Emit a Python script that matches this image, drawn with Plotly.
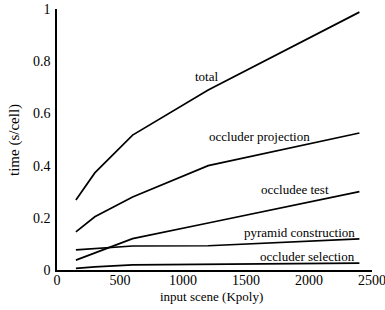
import plotly.graph_objects as go

scene_kpoly = [150, 300, 600, 1200, 2400]
total = [0.268, 0.372, 0.517, 0.69, 0.988]
occluder_projection = [0.146, 0.204, 0.28, 0.40, 0.525]
occludee_test = [0.038, 0.065, 0.12, 0.18, 0.30]
pyramid_construction = [0.077, 0.082, 0.092, 0.093, 0.119]
occluder_selection = [0.006, 0.012, 0.02, 0.022, 0.026]

series = [
    ("total", total),
    ("occluder projection", occluder_projection),
    ("occludee test", occludee_test),
    ("pyramid construction", pyramid_construction),
    ("occluder selection", occluder_selection),
]

# label placement (data coords)
labels = [
    ("total", 1190, 0.743, "center"),
    ("occluder projection", 1611, 0.513, "center"),
    ("occludee test", 1889, 0.31, "center"),
    ("pyramid construction", 2381, 0.142, "right"),
    ("occluder selection", 2381, 0.05, "right"),
]

FONT = "Liberation Serif, Times New Roman, serif"

fig = go.Figure()
for name, vals in series:
    fig.add_trace(go.Scatter(x=scene_kpoly, y=vals, mode="lines", name=name,
                             line=dict(color="black", width=1.7), showlegend=False))

for text, x, y, anc in labels:
    fig.add_annotation(x=x, y=y, text=text, showarrow=False, xanchor=anc,
                       yanchor="middle", font=dict(family=FONT, size=13, color="black"))

fig.add_annotation(x=0.49, y=-0.1, xref="paper", yref="paper", text="input scene (Kpoly)",
                   showarrow=False, xanchor="center", yanchor="middle",
                   font=dict(family=FONT, size=13, color="black"))
fig.add_annotation(x=-0.135, y=0.5, xref="paper", yref="paper", text="time (s/cell)",
                   showarrow=False, textangle=-90, xanchor="center", yanchor="middle",
                   font=dict(family=FONT, size=15, color="black"))

fig.update_layout(
    width=385, height=310,
    margin=dict(l=57, r=13, t=9, b=40, autoexpand=False),
    paper_bgcolor="white", plot_bgcolor="white",
    font=dict(family=FONT, size=14, color="black"),
    xaxis=dict(range=[0, 2500], tickvals=[0, 500, 1000, 1500, 2000, 2500], automargin=False,
               showgrid=False, zeroline=False, showline=True, linecolor="black", linewidth=1.5,
               ticks="", ticklabelstandoff=-4, ticklabeloverflow="allow",
               tickfont=dict(family=FONT, size=14)),
    yaxis=dict(range=[0, 1], tickvals=[0, 0.2, 0.4, 0.6, 0.8, 1], automargin=False,
               showgrid=False, zeroline=False, showline=True, linecolor="black", linewidth=1.5,
               ticks="outside", ticklen=2, tickcolor="rgba(0,0,0,0)", ticklabeloverflow="allow",
               tickfont=dict(family=FONT, size=14)),
)

fig.write_html(
    "out.html",
    config={"responsive": False, "displayModeBar": False},
    post_script="document.body.style.margin='0';document.body.style.overflow='hidden';",
)
